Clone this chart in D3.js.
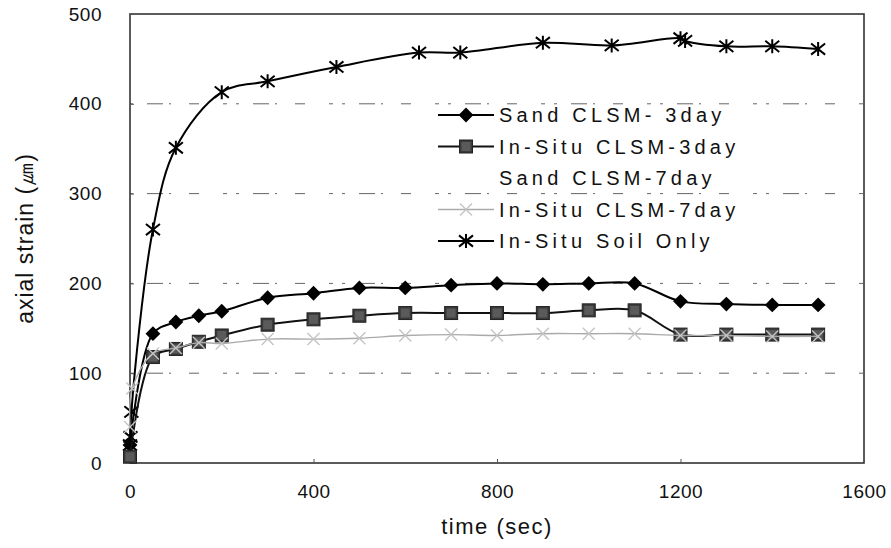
<!DOCTYPE html>
<html>
<head>
<meta charset="utf-8">
<script src="https://cdn.jsdelivr.net/npm/d3@7"></script>
<style>
  body { margin: 0; background: #fff; }
  svg text { font-family: "Liberation Sans", Arial, sans-serif; fill: #111; }
</style>
</head>
<body>
<div id="chart"></div>
<script>
// values
var xTicks = [0, 400, 800, 1200, 1600];
var yTicks = [0, 100, 200, 300, 400, 500];

var sand3Time  = [0, 50, 100, 150, 200, 300, 400, 500, 600, 700, 800, 900, 1000, 1100, 1200, 1300, 1400, 1500];
var sand3Val   = [20, 144, 157, 164, 169, 184, 189, 195, 195, 198, 200, 199, 200, 200, 180, 177, 176, 176];

var situ3Time  = [0, 50, 100, 150, 200, 300, 400, 500, 600, 700, 800, 900, 1000, 1100, 1200, 1300, 1400, 1500];
var situ3Val   = [7, 118, 127, 135, 142, 154, 160, 164, 167, 167, 167, 167, 170, 170, 143, 143, 143, 143];

var situ7Time  = [0, 5, 50, 100, 150, 200, 300, 400, 500, 600, 700, 800, 900, 1000, 1100, 1200, 1300, 1400, 1500];
var situ7Val   = [40, 83, 122, 128, 134, 133, 138, 138, 139, 142, 143, 142, 144, 144, 144, 142, 142, 141, 141];

var soilTime   = [0, 1, 3, 50, 100, 200, 300, 450, 630, 720, 900, 1050, 1200, 1210, 1300, 1400, 1500];
var soilVal    = [20, 29, 57, 260, 351, 413, 425, 441, 457, 457, 468, 465, 473, 470, 464, 464, 461];

var legendNames = ["Sand CLSM- 3day", "In-Situ CLSM-3day", "Sand CLSM-7day", "In-Situ CLSM-7day", "In-Situ Soil Only"];

function pts(t, v) { return t.map(function(d, i) { return {t: d, v: v[i]}; }); }

var W = 891, H = 548;
var plotL = 130, plotR = 864, plotT = 14, plotB = 463;

var svg = d3.select("#chart").append("svg").attr("width", W).attr("height", H);

var x = d3.scaleLinear().domain([0, 1600]).range([plotL, plotR]);
var y = d3.scaleLinear().domain([0, 500]).range([plotB, plotT]);

// broken dash-dot gridlines like the scan
svg.append("g").selectAll("line")
  .data(yTicks.filter(function(d) { return d > 0 && d < 500; }))
  .enter().append("line")
  .attr("x1", plotL).attr("x2", plotR)
  .attr("y1", function(d) { return y(d); })
  .attr("y2", function(d) { return y(d); })
  .attr("stroke", "#666")
  .attr("stroke-width", 1)
  .attr("stroke-dasharray", "3,14,16,6,2,18,10,24,4,9");

// frame
svg.append("rect")
  .attr("x", plotL).attr("y", plotT)
  .attr("width", plotR - plotL).attr("height", plotB - plotT)
  .attr("fill", "none").attr("stroke", "#333").attr("stroke-width", 1.6);

// axes
var xAxis = d3.axisBottom(x).tickValues(xTicks).tickFormat(d3.format("d")).tickSize(-4).tickPadding(22);
var gx = svg.append("g").attr("transform", "translate(0," + plotB + ")").call(xAxis);
gx.select(".domain").remove();
gx.selectAll("line").attr("stroke", "#555");
gx.selectAll("text").style("font-size", "19px").attr("letter-spacing", "0.5px");

var yAxis = d3.axisLeft(y).tickValues(yTicks).tickFormat(d3.format("d")).tickSize(-4).tickPadding(28);
var gy = svg.append("g").attr("transform", "translate(" + plotL + ",0)").call(yAxis);
gy.select(".domain").remove();
gy.selectAll("line").attr("stroke", "#555");
gy.selectAll("text").style("font-size", "19px").attr("letter-spacing", "0.5px");

svg.append("text")
  .attr("transform", "translate(33," + ((plotT + plotB) / 2) + ") rotate(-90)")
  .attr("text-anchor", "middle")
  .style("font-size", "23px")
  .attr("letter-spacing", "1px")
  .text("axial strain (\u339B)");

svg.append("text")
  .attr("x", (plotL + plotR) / 2).attr("y", 534)
  .attr("text-anchor", "middle")
  .style("font-size", "22px")
  .attr("letter-spacing", "1.5px")
  .text("time (sec)");

// marker shapes
function diamond(g, s) {
  g.append("path").attr("d", d3.symbol().type(d3.symbolSquare).size(s.size)())
    .attr("transform", "rotate(45)").attr("fill", "#000");
}
function square(g, s) {
  var h = s.half;
  g.append("rect").attr("x", -h).attr("y", -h).attr("width", 2 * h).attr("height", 2 * h)
    .attr("fill", "#3a3a3a").attr("stroke", "#222").attr("stroke-width", 1);
  g.append("rect").attr("x", -h + 2).attr("y", -h + 2).attr("width", 2 * h - 4).attr("height", 2 * h - 4)
    .attr("fill", "#5a5a5a");
}
function cross(g, s) {
  var h = s.half;
  g.append("path").attr("d", "M" + (-h) + "," + (-h) + "L" + h + "," + h + "M" + (-h) + "," + h + "L" + h + "," + (-h))
    .attr("stroke", "#c4c4c4").attr("stroke-width", 1.4).attr("fill", "none");
}
function star(g, s) {
  var h = s.half;
  g.append("path").attr("d", "M" + (-h) + "," + (-h * 0.8) + "L" + h + "," + (h * 0.8) +
      "M" + (-h) + "," + (h * 0.8) + "L" + h + "," + (-h * 0.8) + "M0," + (-h) + "L0," + h)
    .attr("stroke", "#000").attr("stroke-width", 2).attr("fill", "none");
}

var series = [
  {name: legendNames[4], data: pts(soilTime, soilVal), color: "#000", width: 2, marker: star, ms: {half: 7}},
  {name: legendNames[0], data: pts(sand3Time, sand3Val), color: "#000", width: 2, marker: diamond, ms: {size: 110}},
  {name: legendNames[1], data: pts(situ3Time, situ3Val), color: "#111", width: 2, marker: square, ms: {half: 6.5}},
  {name: legendNames[3], data: pts(situ7Time, situ7Val), color: "#aaa", width: 1.4, marker: cross, ms: {half: 6}}
];

var line = d3.line()
  .x(function(d) { return x(d.t); })
  .y(function(d) { return y(d.v); })
  .curve(d3.curveCatmullRom.alpha(0.5));

series.forEach(function(s) {
  svg.append("path").datum(s.data)
    .attr("d", line).attr("fill", "none")
    .attr("stroke", s.color).attr("stroke-width", s.width);
  svg.append("g").selectAll("g").data(s.data).enter().append("g")
    .attr("transform", function(d) { return "translate(" + x(d.t) + "," + y(d.v) + ")"; })
    .each(function() { s.marker(d3.select(this), s.ms); });
});

// legend
var legendY0 = 115, legendStep = 31.5;
var legendStyle = [
  {color: "#000", width: 2, marker: diamond, ms: {size: 110}},
  {color: "#111", width: 2, marker: square, ms: {half: 6.5}},
  null,
  {color: "#aaa", width: 1.4, marker: cross, ms: {half: 6}},
  {color: "#000", width: 2, marker: star, ms: {half: 7}}
];
legendNames.forEach(function(name, i) {
  var ly = legendY0 + i * legendStep;
  var st = legendStyle[i];
  if (st) {
    svg.append("line").attr("x1", 438).attr("x2", 494).attr("y1", ly).attr("y2", ly)
      .attr("stroke", st.color).attr("stroke-width", st.width);
    var mg = svg.append("g").attr("transform", "translate(466," + ly + ")");
    st.marker(mg, st.ms);
  }
  svg.append("text").attr("x", 499).attr("y", ly + 7)
    .style("font-size", "20px").attr("letter-spacing", "4.2px")
    .text(name);
});
</script>
</body>
</html>
